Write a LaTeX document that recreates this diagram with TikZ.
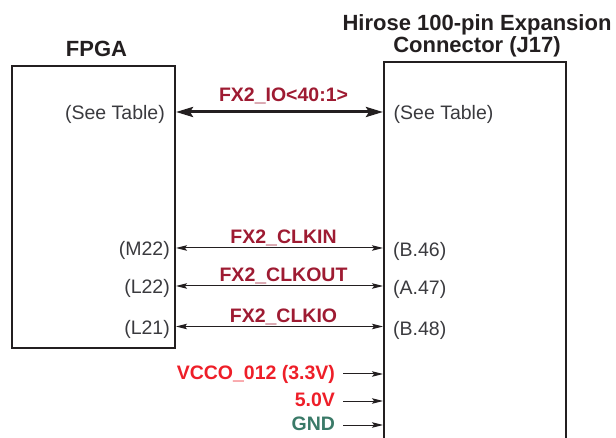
\documentclass[tikz,border=0pt]{standalone}
\usepackage{fontspec}
\setmainfont{Liberation Sans}
\usetikzlibrary{positioning,arrows.meta}

\definecolor{inkgray}{RGB}{35,31,32}
\definecolor{pingray}{RGB}{58,58,62}
\definecolor{sigred}{RGB}{158,27,50}
\definecolor{pwrred}{RGB}{238,30,40}
\definecolor{gndgreen}{RGB}{58,122,104}

\begin{document}
\begin{tikzpicture}[x=1pt, y=-1pt, font=\fontsize{19.5}{22}\selectfont]

% ---- Define Styles ----
\tikzset{
  chipbox/.style={
    draw=inkgray, line width=2pt, inner sep=0pt, outer sep=0pt
  },
  boxtitle/.style={
    font=\fontsize{22}{22}\selectfont\bfseries, text=inkgray,
    align=center, inner sep=0pt
  },
  % text height sets how far the baseline sits below the arrow row
  pinleft/.style={
    anchor=east, text=pingray, inner sep=0pt,
    text height=16pt, text depth=0pt
  },
  pinright/.style={
    anchor=west, text=pingray, inner sep=0pt,
    text height=18pt, text depth=0pt
  },
  signame/.style={
    font=\fontsize{19.5}{22}\selectfont\bfseries, text=sigred,
    anchor=base, inner sep=0pt, xshift=4pt
  },
  railname/.style={
    font=\fontsize{19.5}{22}\selectfont\bfseries, anchor=east,
    inner sep=0pt, outer xsep=8pt, text height=11.5pt, text depth=0pt
  },
  busline/.style={
    draw=inkgray, line width=3pt, shorten <=1pt, shorten >=1pt,
    {Stealth[length=17pt, width=10pt, inset=3pt]}-{Stealth[length=17pt, width=10pt, inset=3pt]}
  },
  clkline/.style={
    draw=inkgray, line width=1pt, shorten <=1pt, shorten >=1pt,
    {Stealth[length=11pt, width=5.5pt, inset=2pt]}-{Stealth[length=11pt, width=5.5pt, inset=2pt]}
  },
  railline/.style={
    draw=inkgray, line width=1pt, shorten >=1pt,
    -{Stealth[length=11pt, width=5.5pt, inset=2pt]}
  }
}

% page frame, the connector runs off the bottom edge
\useasboundingbox (0,0) rectangle (616,438);
\clip (0,0) rectangle (616,438);

% =========================================================
% BOXES
% =========================================================
\node[chipbox, minimum width=163pt, minimum height=282pt] (fpga) at (93.5,207) {};
\node[chipbox, minimum width=182pt, minimum height=410pt] (conn) at (475,267) {};

\node[boxtitle, above=9pt of fpga, xshift=3pt] (fpgatitle) {FPGA};
\node[boxtitle, above=5pt of conn, xshift=2pt] (conntitle) {Hirose 100-pin Expansion\\Connector (J17)};

% =========================================================
% PIN LABELS (y = arrow rows)
% =========================================================
\node[pinleft] (fio)     at (165,112)   {(See Table)};
\node[pinleft] (fclkin)  at (170,248)   {(M22)};
\node[pinleft] (fclkout) at (170,286)   {(L22)};
\node[pinleft] (fclkio)  at (170,326.5) {(L21)};

\node[pinright, text height=16pt] (jio) at (393.5,112) {(See Table)};
\node[pinright] (jclkin)  at (393,248)     {(B.46)};
\node[pinright] (jclkout) at (393,286)     {(A.47)};
\node[pinright] (jclkio)  at (393,326.5)   {(B.48)};

% =========================================================
% SIGNALS: FPGA <-> J17
% =========================================================
\draw[busline] (fio -| fpga.east) -- node[signame, yshift=10pt] {FX2\_IO<40:1>} (jio -| conn.west);
\draw[clkline] (fclkin -| fpga.east) -- node[signame, yshift=4pt] {FX2\_CLKIN} (jclkin -| conn.west);
\draw[clkline] (fclkout -| fpga.east) -- node[signame, yshift=4pt] {FX2\_CLKOUT} (jclkout -| conn.west);
\draw[clkline] (fclkio -| fpga.east) -- node[signame, yshift=4pt] {FX2\_CLKIO} (jclkio -| conn.west);

% =========================================================
% SUPPLY RAILS into J17
% =========================================================
\node[railname, text=pwrred]   (vcco) at (343,374) {VCCO\_012 (3.3V)};
\node[railname, text=pwrred]   (vfive) at (343,401) {5.0V};
\node[railname, text=gndgreen] (gnd)  at (343,425) {GND};

\draw[railline] (vcco.east) -- (vcco.east -| conn.west);
\draw[railline] (vfive.east) -- (vfive.east -| conn.west);
\draw[railline] (gnd.east) -- (gnd.east -| conn.west);

\end{tikzpicture}
\end{document}
